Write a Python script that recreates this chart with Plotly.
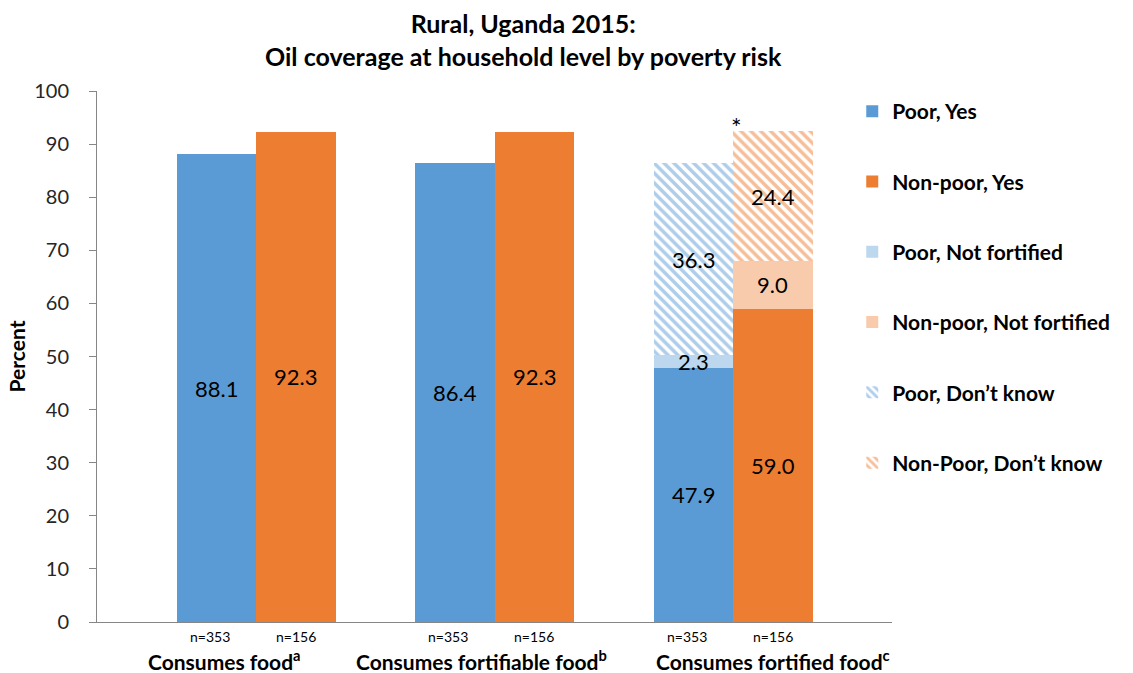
import plotly.graph_objects as go

# ---- data ----
categories = ["Consumes food<sup>a</sup>", "Consumes fortifiable food<sup>b</sup>", "Consumes fortified food<sup>c</sup>"]
n_poor = ["n=353", "n=353", "n=353"]
n_nonpoor = ["n=156", "n=156", "n=156"]
poor_yes = [88.1, 86.4, 47.9]
nonpoor_yes = [92.3, 92.3, 59.0]
poor_not_fortified = [2.3]        # fortified-food category only
nonpoor_not_fortified = [9.0]
poor_dont_know = [36.3]
nonpoor_dont_know = [24.4]

# ---- layout constants ----
group_pos = [0.6, 1.5, 2.4]
cat_label_pos = [0.48, 1.45, 2.55]
bw = 0.3
off = bw / 2
FONT = "Lato"
BLUE, ORANGE = "#5B9BD5", "#ED7D31"
LBLUE, LORANGE = "#BDD7EE", "#F8CBAD"

xp = [g - off for g in group_pos]
xn = [g + off for g in group_pos]

fig = go.Figure()

def add(name, x, y, color, group, pattern=None):
    marker = dict(color=color, line=dict(width=0))
    if pattern:
        marker = dict(color="white", line=dict(width=0),
                      pattern=dict(shape="\\", fgcolor=color, bgcolor="white",
                                   size=7, solidity=0.5, fillmode="overlay"))
    fig.add_trace(go.Bar(name=name, x=x, y=y, width=bw, marker=marker,
                         legendgroup=group, hoverinfo="skip"))

add("Poor, Yes", xp, poor_yes, BLUE, "g1")
add("Non-poor, Yes", xn, nonpoor_yes, ORANGE, "g2")
add("Poor, Not fortified", [xp[2]], poor_not_fortified, LBLUE, "g3")
add("Non-poor, Not fortified", [xn[2]], nonpoor_not_fortified, LORANGE, "g4")
add("Poor, Don\u2019t know", [xp[2]], poor_dont_know, BLUE, "g5", pattern=True)
add("Non-Poor, Don\u2019t know", [xn[2]], nonpoor_dont_know, ORANGE, "g6", pattern=True)

# ---- value labels (centered in each segment) ----
def label(x, base, val):
    fig.add_annotation(x=x, y=base + val / 2, text=f"{val:.1f}", showarrow=False,
                       xref="x", yref="y", xanchor="center", yanchor="middle",
                       font=dict(family=FONT, size=22, color="black"))

for i in range(2):
    label(xp[i], 0, poor_yes[i])
    label(xn[i], 0, nonpoor_yes[i])
label(xp[2], 0, poor_yes[2])
label(xp[2], poor_yes[2], poor_not_fortified[0])
label(xp[2], poor_yes[2] + poor_not_fortified[0], poor_dont_know[0])
label(xn[2], 0, nonpoor_yes[2])
label(xn[2], nonpoor_yes[2], nonpoor_not_fortified[0])
label(xn[2], nonpoor_yes[2] + nonpoor_not_fortified[0], nonpoor_dont_know[0])

# asterisk above non-poor fortified stack
top_np = nonpoor_yes[2] + nonpoor_not_fortified[0] + nonpoor_dont_know[0]
fig.add_annotation(x=xn[2] - bw / 2 + 0.012, y=top_np, yshift=4, text="*", showarrow=False,
                   xref="x", yref="y", xanchor="center", yanchor="middle",
                   font=dict(family=FONT, size=25, color="black"))

# n labels and category labels
for i in range(3):
    fig.add_annotation(x=xp[i] - 0.025, y=-0.027, xref="x", yref="paper", text=n_poor[i],
                       showarrow=False, xanchor="center", yanchor="middle",
                       font=dict(family=FONT, size=14, color="black"))
    fig.add_annotation(x=xn[i], y=-0.027, xref="x", yref="paper", text=n_nonpoor[i],
                       showarrow=False, xanchor="center", yanchor="middle",
                       font=dict(family=FONT, size=14, color="black"))
    fig.add_annotation(x=cat_label_pos[i], y=-0.072, xref="x", yref="paper",
                       text=f"<b>{categories[i]}</b>",
                       showarrow=False, xanchor="center", yanchor="middle",
                       font=dict(family=FONT, size=21, color="black"))

# title
fig.add_annotation(x=0.537, y=1.097, xref="paper", yref="paper",
                   text="<b>Rural, Uganda 2015:<br>Oil coverage at household level by poverty risk</b>",
                   showarrow=False, xanchor="center", yanchor="middle",
                   font=dict(family=FONT, size=25, color="black"))

fig.update_layout(
    width=1133, height=673,
    barmode="stack",
    plot_bgcolor="white", paper_bgcolor="white",
    margin=dict(l=97, r=241, t=91, b=51),
    font=dict(family=FONT, color="black"),
    showlegend=True,
    legend=dict(x=0.95, xanchor="left", y=1.0, yanchor="top",
                font=dict(family=FONT, size=21, color="black", weight="bold"),
                tracegroupgap=40, traceorder="grouped", bgcolor="rgba(0,0,0,0)"),
    xaxis=dict(range=[0, 3], showline=True, linecolor="#868686", linewidth=1,
               showgrid=False, zeroline=False, showticklabels=False,
               ticks="inside", tickvals=[3], ticklen=5, tickcolor="#868686"),
    yaxis=dict(range=[0, 100], showline=True, linecolor="#868686", linewidth=1,
               showgrid=False, zeroline=False, ticks="outside", ticklen=7,
               tickcolor="#868686", dtick=10, ticklabelstandoff=16,
               tickfont=dict(family=FONT, size=20, color="#262626"),
               title=dict(text="<b>Percent</b>", font=dict(family=FONT, size=21, color="black"),
                          standoff=2)),
)

fig.write_html("out.html", config={"displayModeBar": False},
               post_script="document.body.style.margin='0';")
